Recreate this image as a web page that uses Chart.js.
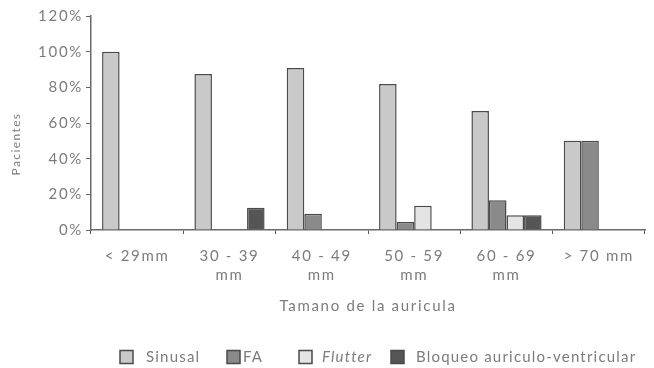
<!DOCTYPE html>
<html>
<head>
<meta charset="utf-8">
<script src="https://cdn.jsdelivr.net/npm/chart.js@4/dist/chart.umd.min.js"></script>
<style>
  html, body { margin: 0; padding: 0; background: #ffffff; }
  #wrap { position: relative; width: 654px; height: 368px; }
</style>
</head>
<body>
<div id="wrap"><canvas id="c" width="654" height="368"></canvas></div>
<script>
// Atrial size groups and rhythm distribution (% of patients)
const categories = [['< 29mm'], ['30 - 39', 'mm'], ['40 - 49', 'mm'], ['50 - 59', 'mm'], ['60 - 69', 'mm'], ['> 70 mm']];
const seriesNames = ['Sinusal', 'FA', 'Flutter', 'Bloqueo auriculo-ventricular'];
const sinusal = [100, 87.5, 90.9, 81.8, 66.7, 50];
const fa      = [null, null, 9.1, 4.5, 16.7, 50];
const flutter = [null, null, null, 13.6, 8.3, null];
const bav     = [null, 12.5, null, null, 8.3, null];
const yTicks  = [0, 20, 40, 60, 80, 100, 120];

const fills = ['#c9c9c9', '#8a8a8a', '#e4e4e4', '#555555'];
const edge = '#4a4a4a';
const textGray = '#7c7c7c';
const FONT = 'Lato';

// legend row layout (x of swatch, x of label)
const legendBoxX  = [120, 227, 299, 391];
const legendTextX = [146, 243, 322, 416];

const spacing = {
  id: 'spacing',
  beforeLayout(chart) { chart.ctx.letterSpacing = '1.7px'; },
  beforeDraw(chart) { chart.ctx.letterSpacing = '1.7px'; }
};

// Rotated y-axis caption and the legend row under the plot
const extras = {
  id: 'extras',
  afterDraw(chart) {
    const ctx = chart.ctx;
    ctx.save();
    ctx.letterSpacing = '1.4px';
    ctx.translate(16, 144);
    ctx.rotate(-Math.PI / 2);
    ctx.font = '12px ' + FONT;
    ctx.fillStyle = textGray;
    ctx.textAlign = 'center';
    ctx.textBaseline = 'middle';
    ctx.fillText('Pacientes', 0, 0);
    ctx.restore();

    ctx.save();
    ctx.letterSpacing = '1.2px';
    const y = 357;
    chart.data.datasets.forEach((ds, i) => {
      ctx.fillStyle = ds.backgroundColor;
      ctx.strokeStyle = edge;
      ctx.lineWidth = 1.5;
      ctx.fillRect(legendBoxX[i], y - 6.5, 13, 13);
      ctx.strokeRect(legendBoxX[i], y - 6.5, 13, 13);
      ctx.font = (i === 2 ? 'italic ' : '') + '15px ' + FONT;
      ctx.fillStyle = textGray;
      ctx.textBaseline = 'middle';
      ctx.fillText(ds.label, legendTextX[i], y);
    });
    ctx.restore();
  }
};

const mk = (i, data) => ({
  label: seriesNames[i],
  data: data,
  backgroundColor: fills[i],
  borderColor: edge,
  borderWidth: 1.5,
  borderSkipped: 'bottom'
});

new Chart(document.getElementById('c'), {
  type: 'bar',
  data: {
    labels: categories,
    datasets: [mk(0, sinusal), mk(1, fa), mk(2, flutter), mk(3, bav)]
  },
  options: {
    responsive: false,
    animation: false,
    devicePixelRatio: 1,
    categoryPercentage: 0.76,
    barPercentage: 1.0,
    layout: { padding: { top: 16, right: 9, left: 0, bottom: 40 } },
    plugins: { legend: { display: false }, tooltip: { enabled: false } },
    scales: {
      x: {
        grid: { display: true, drawOnChartArea: false, offset: true, tickLength: 4, color: '#555', lineWidth: 1 },
        border: { display: true, color: '#6a6a6a', width: 1.5 },
        ticks: { color: textGray, font: { family: FONT, size: 15, lineHeight: 1.3 }, padding: 12, maxRotation: 0, autoSkip: false },
        title: { display: true, text: 'Tamano de la auricula', color: textGray, font: { family: FONT, size: 15 }, padding: { top: 4, bottom: 13 } },
        afterFit(scale) { scale.height = 98; }
      },
      y: {
        min: 0, max: 120,
        afterBuildTicks(scale) { scale.ticks = yTicks.map(v => ({ value: v })); },
        grid: { display: true, drawOnChartArea: false, tickLength: 5, color: '#666' },
        border: { display: true, color: '#6a6a6a', width: 1.5 },
        ticks: { color: textGray, font: { family: FONT, size: 15 }, padding: 3, callback: v => v + '%' },
        afterFit(scale) { scale.width = 91; }
      }
    }
  },
  plugins: [spacing, extras]
});
</script>
</body>
</html>
